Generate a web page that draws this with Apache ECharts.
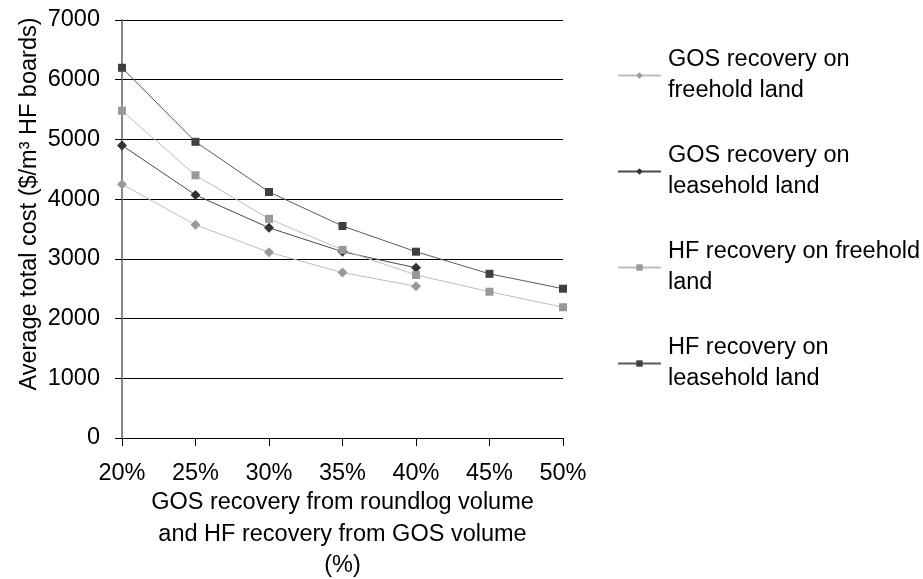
<!DOCTYPE html>
<html>
<head>
<meta charset="utf-8">
<script src="https://cdn.jsdelivr.net/npm/echarts@6/dist/echarts.min.js"></script>
<style>html,body{margin:0;padding:0;background:#fff;}#c{width:923px;height:579px;}</style>
</head>
<body>
<div id="c"></div>
<script>
var categories = ['20%', '25%', '30%', '35%', '40%', '45%', '50%'];
var gosFreehold = [4250, 3570, 3110, 2770, 2540];
var gosLeasehold = [4900, 4070, 3520, 3120, 2850];
var hfFreehold = [5480, 4400, 3670, 3150, 2730, 2450, 2190];
var hfLeasehold = [6200, 4960, 4120, 3550, 3120, 2750, 2500];
var yTicks = [0, 1000, 2000, 3000, 4000, 5000, 6000, 7000];
var seriesNames = ['GOS recovery on freehold land', 'GOS recovery on leasehold land', 'HF recovery on freehold land', 'HF recovery on leasehold land'];
var legendLabels = {
  'GOS recovery on freehold land': 'GOS recovery on\nfreehold land',
  'GOS recovery on leasehold land': 'GOS recovery on\nleasehold land',
  'HF recovery on freehold land': 'HF recovery on freehold\nland',
  'HF recovery on leasehold land': 'HF recovery on\nleasehold land'
};
var FONT = '"Liberation Sans", Arial, sans-serif';
var FS = 23.5;
var chart = echarts.init(document.getElementById('c'));
function mk(name, data, symbol, lineColor, markColor) {
  return {
    name: name, type: 'line', data: data, symbol: symbol, symbolSize: symbol === 'rect' ? 8 : 10,
    showAllSymbol: true, animation: false,
    lineStyle: { color: lineColor, width: 1 },
    itemStyle: { color: markColor, borderWidth: 0 }
  };
}
chart.setOption({
  backgroundColor: '#fff',
  animation: false,
  textStyle: { fontFamily: FONT },
  grid: { left: 122, right: 360, top: 20, bottom: 141, containLabel: false, outerBoundsMode: 'none' },
  legend: {
    orient: 'vertical', left: 617, top: 29, padding: 0, itemGap: 3,
    itemWidth: 43, itemHeight: 8,
    data: seriesNames,
    formatter: function (n) { return legendLabels[n]; },
    textStyle: { fontFamily: FONT, fontSize: FS, color: '#000', lineHeight: 31, padding: [31, 0, 0, 2] }
  },
  xAxis: {
    type: 'category', data: categories, boundaryGap: false,
    name: 'GOS recovery from roundlog volume\nand HF recovery from GOS volume\n(%)',
    nameLocation: 'middle', nameGap: 49, nameMoveOverlap: false,
    nameTextStyle: { fontFamily: FONT, fontSize: FS, color: '#000', lineHeight: 31.5 },
    axisLine: { lineStyle: { color: '#000', width: 1 } },
    axisTick: { show: true, length: 8, lineStyle: { color: '#000' }, alignWithLabel: true },
    axisLabel: { fontFamily: FONT, fontSize: FS, color: '#000', margin: 24 },
    splitLine: { show: false }
  },
  yAxis: {
    type: 'value', min: yTicks[0], max: yTicks[yTicks.length - 1], interval: 1000,
    name: 'Average total cost ($/m³ HF boards)',
    nameLocation: 'middle', nameGap: 80, nameMoveOverlap: false,
    nameTextStyle: { fontFamily: FONT, fontSize: FS, color: '#000', padding: [0, 0, 0, 50] },
    axisLine: { show: true, lineStyle: { color: '#888', width: 2 } },
    axisTick: { show: true, length: 7, lineStyle: { color: '#000' } },
    axisLabel: { fontFamily: FONT, fontSize: FS, color: '#000', margin: 22, formatter: function (v) { return String(v); } },
    splitLine: { show: true, lineStyle: { color: '#000', width: 1 } }
  },
  series: [
    mk(seriesNames[0], gosFreehold, 'diamond', '#bdbdbd', '#999999'),
    mk(seriesNames[1], gosLeasehold, 'diamond', '#4a4a4a', '#333333'),
    mk(seriesNames[2], hfFreehold, 'rect', '#bdbdbd', '#999999'),
    mk(seriesNames[3], hfLeasehold, 'rect', '#5a5a5a', '#404040')
  ]
});
</script>
</body>
</html>
